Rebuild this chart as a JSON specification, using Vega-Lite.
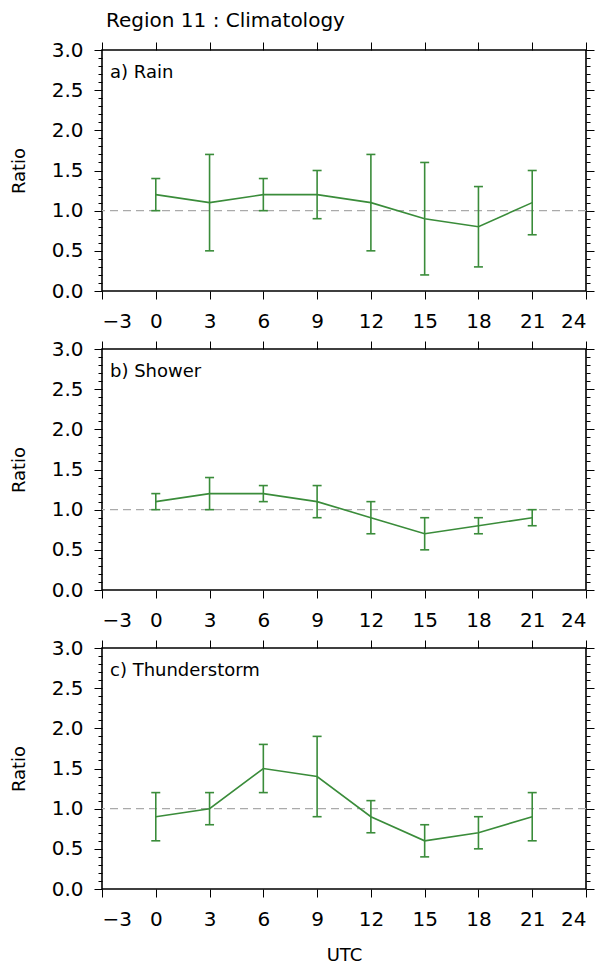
{
  "$schema": "https://vega.github.io/schema/vega-lite/v6.json",
  "padding": {"left": 9, "top": 11, "right": 6, "bottom": 0},
  "title": {"text": "Region 11 : Climatology", "anchor": "start", "frame": "group", "fontSize": 20, "fontWeight": "normal", "font": "DejaVu Sans", "color": "#000", "dx": 4, "offset": 8},
  "datasets": {
    "clim": [
      {"panel": "a", "utc": 0, "ratio": 1.2, "lo": 1.0, "hi": 1.4},
      {"panel": "a", "utc": 3, "ratio": 1.1, "lo": 0.5, "hi": 1.7},
      {"panel": "a", "utc": 6, "ratio": 1.2, "lo": 1.0, "hi": 1.4},
      {"panel": "a", "utc": 9, "ratio": 1.2, "lo": 0.9, "hi": 1.5},
      {"panel": "a", "utc": 12, "ratio": 1.1, "lo": 0.5, "hi": 1.7},
      {"panel": "a", "utc": 15, "ratio": 0.9, "lo": 0.2, "hi": 1.6},
      {"panel": "a", "utc": 18, "ratio": 0.8, "lo": 0.3, "hi": 1.3},
      {"panel": "a", "utc": 21, "ratio": 1.1, "lo": 0.7, "hi": 1.5},
      {"panel": "b", "utc": 0, "ratio": 1.1, "lo": 1.0, "hi": 1.2},
      {"panel": "b", "utc": 3, "ratio": 1.2, "lo": 1.0, "hi": 1.4},
      {"panel": "b", "utc": 6, "ratio": 1.2, "lo": 1.1, "hi": 1.3},
      {"panel": "b", "utc": 9, "ratio": 1.1, "lo": 0.9, "hi": 1.3},
      {"panel": "b", "utc": 12, "ratio": 0.9, "lo": 0.7, "hi": 1.1},
      {"panel": "b", "utc": 15, "ratio": 0.7, "lo": 0.5, "hi": 0.9},
      {"panel": "b", "utc": 18, "ratio": 0.8, "lo": 0.7, "hi": 0.9},
      {"panel": "b", "utc": 21, "ratio": 0.9, "lo": 0.8, "hi": 1.0},
      {"panel": "c", "utc": 0, "ratio": 0.9, "lo": 0.6, "hi": 1.2},
      {"panel": "c", "utc": 3, "ratio": 1.0, "lo": 0.8, "hi": 1.2},
      {"panel": "c", "utc": 6, "ratio": 1.5, "lo": 1.2, "hi": 1.8},
      {"panel": "c", "utc": 9, "ratio": 1.4, "lo": 0.9, "hi": 1.9},
      {"panel": "c", "utc": 12, "ratio": 0.9, "lo": 0.7, "hi": 1.1},
      {"panel": "c", "utc": 15, "ratio": 0.6, "lo": 0.4, "hi": 0.8},
      {"panel": "c", "utc": 18, "ratio": 0.7, "lo": 0.5, "hi": 0.9},
      {"panel": "c", "utc": 21, "ratio": 0.9, "lo": 0.6, "hi": 1.2}
    ],
    "labels": [
      {"panel": "a", "label": "a) Rain"},
      {"panel": "b", "label": "b) Shower"},
      {"panel": "c", "label": "c) Thunderstorm"}
    ]
  },
  "spacing": 6,
  "vconcat": [
    {
      "width": 484, "height": 241,
      "layer": [
        {
          "data": {"values": [{}]},
          "mark": {"type": "rule", "color": "#aaaaaa", "strokeDash": [8, 5], "strokeWidth": 1.3},
          "encoding": {
            "y": {"datum": 1, "type": "quantitative", "scale": {"domain": [0, 3], "nice": false, "zero": false},
                  "axis": {"orient": "right", "values": [0.1,0.2,0.3,0.4,0.6,0.7,0.8,0.9,1.1,1.2,1.3,1.4,1.6,1.7,1.8,1.9,2.1,2.2,2.3,2.4,2.6,2.7,2.8,2.9], "tickSize": 4, "labels": false, "title": null}}
          }
        },
        {
          "data": {"name": "clim"},
          "transform": [{"filter": "datum.panel === 'a'"}],
          "mark": {"type": "rule", "color": "#3a8c3a", "strokeWidth": 1.6},
          "encoding": {
            "x": {"field": "utc", "type": "quantitative", "scale": {"domain": [-3, 24], "nice": false, "zero": false},
                  "axis": {"orient": "top", "values": [-3,0,3,6,9,12,15,18,21,24], "labels": false, "tickSize": 8, "title": null}},
            "y": {"field": "lo", "type": "quantitative",
                  "axis": {"orient": "right", "values": [0,0.5,1,1.5,2,2.5,3], "labels": false, "tickSize": 8, "title": null}},
            "y2": {"field": "hi"}
          }
        },
        {
          "data": {"name": "clim"},
          "transform": [{"filter": "datum.panel === 'a'"}, {"fold": ["lo", "hi"], "as": ["end", "cap"]}],
          "mark": {"type": "tick", "color": "#3a8c3a", "orient": "horizontal", "size": 9, "thickness": 1.6, "opacity": 1},
          "encoding": {
            "x": {"field": "utc", "type": "quantitative", "axis": null},
            "y": {"field": "cap", "type": "quantitative",
                  "axis": {"orient": "left", "values": [0.1,0.2,0.3,0.4,0.6,0.7,0.8,0.9,1.1,1.2,1.3,1.4,1.6,1.7,1.8,1.9,2.1,2.2,2.3,2.4,2.6,2.7,2.8,2.9], "tickSize": 4, "labels": false, "title": null}}
          }
        },
        {
          "data": {"name": "clim"},
          "transform": [{"filter": "datum.panel === 'a'"}],
          "mark": {"type": "line", "color": "#3a8c3a", "strokeWidth": 1.6},
          "encoding": {
            "x": {"field": "utc", "type": "quantitative",
                  "axis": {"orient": "bottom", "values": [-3,0,3,6,9,12,15,18,21,24], "format": "d", "title": null}},
            "y": {"field": "ratio", "type": "quantitative",
                  "axis": {"orient": "left", "values": [0,0.5,1,1.5,2,2.5,3], "format": ".1f", "title": "Ratio"}}
          }
        },
        {
          "data": {"name": "labels"},
          "transform": [{"filter": "datum.panel === 'a'"}],
          "mark": {"type": "text", "align": "left", "baseline": "top", "dx": 8, "dy": 14, "fontSize": 18, "font": "DejaVu Sans", "color": "#000"},
          "encoding": {
            "x": {"datum": -3, "type": "quantitative", "axis": null},
            "y": {"datum": 3, "type": "quantitative", "axis": null},
            "text": {"field": "label"}
          }
        }
      ],
      "resolve": {"axis": {"x": "independent", "y": "independent"}}
    },
    {
      "width": 484, "height": 241,
      "layer": [
        {
          "data": {"values": [{}]},
          "mark": {"type": "rule", "color": "#aaaaaa", "strokeDash": [8, 5], "strokeWidth": 1.3},
          "encoding": {
            "y": {"datum": 1, "type": "quantitative", "scale": {"domain": [0, 3], "nice": false, "zero": false},
                  "axis": {"orient": "right", "values": [0.1,0.2,0.3,0.4,0.6,0.7,0.8,0.9,1.1,1.2,1.3,1.4,1.6,1.7,1.8,1.9,2.1,2.2,2.3,2.4,2.6,2.7,2.8,2.9], "tickSize": 4, "labels": false, "title": null}}
          }
        },
        {
          "data": {"name": "clim"},
          "transform": [{"filter": "datum.panel === 'b'"}],
          "mark": {"type": "rule", "color": "#3a8c3a", "strokeWidth": 1.6},
          "encoding": {
            "x": {"field": "utc", "type": "quantitative", "scale": {"domain": [-3, 24], "nice": false, "zero": false},
                  "axis": {"orient": "top", "values": [-3,0,3,6,9,12,15,18,21,24], "labels": false, "tickSize": 8, "title": null}},
            "y": {"field": "lo", "type": "quantitative",
                  "axis": {"orient": "right", "values": [0,0.5,1,1.5,2,2.5,3], "labels": false, "tickSize": 8, "title": null}},
            "y2": {"field": "hi"}
          }
        },
        {
          "data": {"name": "clim"},
          "transform": [{"filter": "datum.panel === 'b'"}, {"fold": ["lo", "hi"], "as": ["end", "cap"]}],
          "mark": {"type": "tick", "color": "#3a8c3a", "orient": "horizontal", "size": 9, "thickness": 1.6, "opacity": 1},
          "encoding": {
            "x": {"field": "utc", "type": "quantitative", "axis": null},
            "y": {"field": "cap", "type": "quantitative",
                  "axis": {"orient": "left", "values": [0.1,0.2,0.3,0.4,0.6,0.7,0.8,0.9,1.1,1.2,1.3,1.4,1.6,1.7,1.8,1.9,2.1,2.2,2.3,2.4,2.6,2.7,2.8,2.9], "tickSize": 4, "labels": false, "title": null}}
          }
        },
        {
          "data": {"name": "clim"},
          "transform": [{"filter": "datum.panel === 'b'"}],
          "mark": {"type": "line", "color": "#3a8c3a", "strokeWidth": 1.6},
          "encoding": {
            "x": {"field": "utc", "type": "quantitative",
                  "axis": {"orient": "bottom", "values": [-3,0,3,6,9,12,15,18,21,24], "format": "d", "title": null}},
            "y": {"field": "ratio", "type": "quantitative",
                  "axis": {"orient": "left", "values": [0,0.5,1,1.5,2,2.5,3], "format": ".1f", "title": "Ratio"}}
          }
        },
        {
          "data": {"name": "labels"},
          "transform": [{"filter": "datum.panel === 'b'"}],
          "mark": {"type": "text", "align": "left", "baseline": "top", "dx": 8, "dy": 14, "fontSize": 18, "font": "DejaVu Sans", "color": "#000"},
          "encoding": {
            "x": {"datum": -3, "type": "quantitative", "axis": null},
            "y": {"datum": 3, "type": "quantitative", "axis": null},
            "text": {"field": "label"}
          }
        }
      ],
      "resolve": {"axis": {"x": "independent", "y": "independent"}}
    },
    {
      "width": 484, "height": 241,
      "layer": [
        {
          "data": {"values": [{}]},
          "mark": {"type": "rule", "color": "#aaaaaa", "strokeDash": [8, 5], "strokeWidth": 1.3},
          "encoding": {
            "y": {"datum": 1, "type": "quantitative", "scale": {"domain": [0, 3], "nice": false, "zero": false},
                  "axis": {"orient": "right", "values": [0.1,0.2,0.3,0.4,0.6,0.7,0.8,0.9,1.1,1.2,1.3,1.4,1.6,1.7,1.8,1.9,2.1,2.2,2.3,2.4,2.6,2.7,2.8,2.9], "tickSize": 4, "labels": false, "title": null}}
          }
        },
        {
          "data": {"name": "clim"},
          "transform": [{"filter": "datum.panel === 'c'"}],
          "mark": {"type": "rule", "color": "#3a8c3a", "strokeWidth": 1.6},
          "encoding": {
            "x": {"field": "utc", "type": "quantitative", "scale": {"domain": [-3, 24], "nice": false, "zero": false},
                  "axis": {"orient": "top", "values": [-3,0,3,6,9,12,15,18,21,24], "labels": false, "tickSize": 8, "title": null}},
            "y": {"field": "lo", "type": "quantitative",
                  "axis": {"orient": "right", "values": [0,0.5,1,1.5,2,2.5,3], "labels": false, "tickSize": 8, "title": null}},
            "y2": {"field": "hi"}
          }
        },
        {
          "data": {"name": "clim"},
          "transform": [{"filter": "datum.panel === 'c'"}, {"fold": ["lo", "hi"], "as": ["end", "cap"]}],
          "mark": {"type": "tick", "color": "#3a8c3a", "orient": "horizontal", "size": 9, "thickness": 1.6, "opacity": 1},
          "encoding": {
            "x": {"field": "utc", "type": "quantitative", "axis": null},
            "y": {"field": "cap", "type": "quantitative",
                  "axis": {"orient": "left", "values": [0.1,0.2,0.3,0.4,0.6,0.7,0.8,0.9,1.1,1.2,1.3,1.4,1.6,1.7,1.8,1.9,2.1,2.2,2.3,2.4,2.6,2.7,2.8,2.9], "tickSize": 4, "labels": false, "title": null}}
          }
        },
        {
          "data": {"name": "clim"},
          "transform": [{"filter": "datum.panel === 'c'"}],
          "mark": {"type": "line", "color": "#3a8c3a", "strokeWidth": 1.6},
          "encoding": {
            "x": {"field": "utc", "type": "quantitative",
                  "axis": {"orient": "bottom", "values": [-3,0,3,6,9,12,15,18,21,24], "format": "d", "title": "UTC", "titlePadding": 17}},
            "y": {"field": "ratio", "type": "quantitative",
                  "axis": {"orient": "left", "values": [0,0.5,1,1.5,2,2.5,3], "format": ".1f", "title": "Ratio"}}
          }
        },
        {
          "data": {"name": "labels"},
          "transform": [{"filter": "datum.panel === 'c'"}],
          "mark": {"type": "text", "align": "left", "baseline": "top", "dx": 8, "dy": 14, "fontSize": 18, "font": "DejaVu Sans", "color": "#000"},
          "encoding": {
            "x": {"datum": -3, "type": "quantitative", "axis": null},
            "y": {"datum": 3, "type": "quantitative", "axis": null},
            "text": {"field": "label"}
          }
        }
      ],
      "resolve": {"axis": {"x": "independent", "y": "independent"}}
    }
  ],
  "config": {
    "view": {"stroke": "#000", "strokeWidth": 1.6},
    "axis": {
      "domain": false, "grid": false,
      "tickColor": "#000", "tickWidth": 1, "tickSize": 8,
      "labelColor": "#000", "labelFont": "DejaVu Sans", "labelFontSize": 20, "labelPadding": 11,
      "titleColor": "#000", "titleFont": "DejaVu Sans", "titleFontSize": 18, "titleFontWeight": "normal", "titlePadding": 23
    },
    "axisX": {"labelPadding": 12}
  }
}
